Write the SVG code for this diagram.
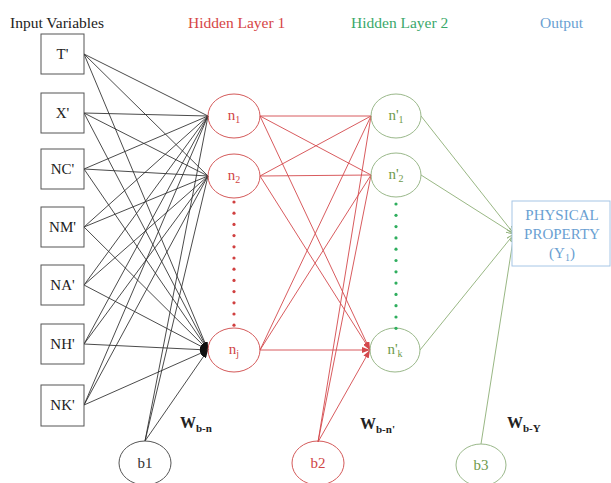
<svg xmlns="http://www.w3.org/2000/svg" width="611" height="483" viewBox="0 0 611 483">
<defs>
<style>
text{font-family:"Liberation Serif","Times New Roman",serif;}
.box{fill:#fff;stroke:#555;stroke-width:1;}
.lbl{font-size:15px;fill:#222;text-anchor:middle;}
.title{font-size:15.5px;}
.cb{fill:none;stroke:#555;stroke-width:1;}
.cr{fill:none;stroke:#d45a5a;stroke-width:1;}
.cg{fill:none;stroke:#9ab88a;stroke-width:1;}
.tr{font-size:15px;fill:#d04545;text-anchor:middle;}
.tg{font-size:15px;fill:#6f9a4c;text-anchor:middle;}
.tb{font-size:15px;fill:#333;text-anchor:middle;}
.lk{stroke:#2b2b2b;stroke-width:0.85;fill:none;marker-end:url(#ak);}
.lr{stroke:#d4484c;stroke-width:0.9;fill:none;marker-end:url(#ar);}
.lg{stroke:#8daf76;stroke-width:0.9;fill:none;}
.w{font-size:16px;font-weight:bold;fill:#222;}
.out{font-size:15px;fill:#6a9fd2;text-anchor:middle;}
</style>
<marker id="ak" markerWidth="8" markerHeight="6" refX="8" refY="3" orient="auto" markerUnits="userSpaceOnUse"><path d="M0,0 L8,3 L0,6 z" fill="#111"/></marker>
<marker id="ar" markerWidth="8" markerHeight="6" refX="8" refY="3" orient="auto" markerUnits="userSpaceOnUse"><path d="M0,0 L8,3 L0,6 z" fill="#d4484c"/></marker>
<marker id="ag" markerWidth="8" markerHeight="6" refX="8" refY="3" orient="auto" markerUnits="userSpaceOnUse"><path d="M0,0 L8,3 L0,6" fill="none" stroke="#8daf76" stroke-width="1"/></marker>
</defs>
<rect width="611" height="483" fill="#fff"/>

<!-- titles -->
<text class="title" x="10" y="28" fill="#222">Input Variables</text>
<text class="title" x="188" y="28" fill="#d64545">Hidden Layer 1</text>
<text class="title" x="351" y="28" fill="#3aa86a">Hidden Layer 2</text>
<text class="title" x="540" y="28" fill="#6a9fd2">Output</text>

<!-- connectors -->
<g id="connectors">
<g id="inputs-to-h1">
<path class="lk" d="M84,54 L208,116 M84,54 L208,176 M84,54 L208,350"/>
<path class="lk" d="M84,113 L208,116 M84,113 L208,176 M84,113 L208,350"/>
<path class="lk" d="M84,169 L208,116 M84,169 L208,176 M84,169 L208,350"/>
<path class="lk" d="M84,227 L208,116 M84,227 L208,176 M84,227 L208,350"/>
<path class="lk" d="M84,285 L208,116 M84,285 L208,176 M84,285 L208,350"/>
<path class="lk" d="M84,344 L208,116 M84,344 L208,176 M84,344 L208,350"/>
<path class="lk" d="M84,405 L208,116 M84,405 L208,176 M84,405 L208,350"/>
<path class="lk" d="M145,441 L208,116 M145,441 L208,176 M145,441 L208,350"/>
</g>
<g id="h1-to-h2">
<path class="lr" d="M260,116 L371,116 M260,116 L371,175 M260,116 L370,350"/>
<path class="lr" d="M260,176 L371,116 M260,176 L371,175 M260,176 L370,350"/>
<path class="lr" d="M260,350 L371,116 M260,350 L371,175 M260,350 L370,350"/>
<path class="lr" d="M318,442 L371,116 M318,442 L371,175 M318,442 L370,350"/>
</g>
<g id="h2-to-out">
<path class="lg" marker-end="url(#ag)" d="M421,116 L514,234"/>
<path class="lg" marker-end="url(#ag)" d="M421,175 L514,234"/>
<path class="lg" marker-end="url(#ag)" d="M420,350 L514,234"/>
<path class="lg" marker-end="url(#ag)" d="M481,444 L514,234"/>
</g>
</g>

<!-- input nodes -->
<g id="in-T"><rect class="box" x="41" y="34" width="43" height="40"/><text class="lbl" x="62.5" y="59">T'</text></g>
<g id="in-X"><rect class="box" x="41" y="93" width="43" height="40"/><text class="lbl" x="62.5" y="118">X'</text></g>
<g id="in-NC"><rect class="box" x="41" y="149" width="43" height="40"/><text class="lbl" x="62.5" y="174">NC'</text></g>
<g id="in-NM"><rect class="box" x="41" y="207" width="43" height="40"/><text class="lbl" x="62.5" y="232">NM'</text></g>
<g id="in-NA"><rect class="box" x="41" y="265" width="43" height="40"/><text class="lbl" x="62.5" y="290">NA'</text></g>
<g id="in-NH"><rect class="box" x="41" y="324" width="43" height="40"/><text class="lbl" x="62.5" y="349">NH'</text></g>
<g id="in-NK"><rect class="box" x="41" y="385" width="43" height="41"/><text class="lbl" x="62.5" y="410">NK'</text></g>

<!-- hidden layer 1 -->
<g id="n1"><ellipse class="cr" cx="234" cy="116" rx="26" ry="22"/><text class="tr" x="234" y="120">n<tspan dy="3" font-size="10">1</tspan></text></g>
<g id="n2"><ellipse class="cr" cx="234" cy="176" rx="26" ry="22"/><text class="tr" x="234" y="180">n<tspan dy="3" font-size="10">2</tspan></text></g>
<g id="nj"><ellipse class="cr" cx="234" cy="350" rx="26" ry="22"/><text class="tr" x="234" y="354">n<tspan dy="3" font-size="10">j</tspan></text></g>
<g id="dots1" fill="#d04040">
<circle cx="234" cy="202" r="1.6"/><circle cx="234" cy="213.2" r="1.6"/><circle cx="234" cy="224.4" r="1.6"/><circle cx="234" cy="235.6" r="1.6"/><circle cx="234" cy="246.8" r="1.6"/><circle cx="234" cy="258" r="1.6"/><circle cx="234" cy="269.2" r="1.6"/><circle cx="234" cy="280.4" r="1.6"/><circle cx="234" cy="291.6" r="1.6"/><circle cx="234" cy="302.8" r="1.6"/><circle cx="234" cy="314" r="1.6"/><circle cx="234" cy="325.2" r="1.6"/>
</g>

<!-- hidden layer 2 -->
<g id="np1"><ellipse class="cg" cx="396" cy="116" rx="25" ry="22"/><text class="tg" x="396" y="120">n'<tspan dy="3" font-size="10">1</tspan></text></g>
<g id="np2"><ellipse class="cg" cx="396" cy="175" rx="25" ry="22"/><text class="tg" x="396" y="179">n'<tspan dy="3" font-size="10">2</tspan></text></g>
<g id="npk"><ellipse class="cg" cx="395" cy="350" rx="25" ry="22"/><text class="tg" x="395" y="354">n'<tspan dy="3" font-size="10">k</tspan></text></g>
<g id="dots2" fill="#2fae5e">
<circle cx="396" cy="204" r="1.6"/><circle cx="396" cy="215.3" r="1.6"/><circle cx="396" cy="226.6" r="1.6"/><circle cx="396" cy="237.9" r="1.6"/><circle cx="396" cy="249.2" r="1.6"/><circle cx="396" cy="260.5" r="1.6"/><circle cx="396" cy="271.8" r="1.6"/><circle cx="396" cy="283.1" r="1.6"/><circle cx="396" cy="294.4" r="1.6"/><circle cx="396" cy="305.7" r="1.6"/><circle cx="396" cy="317" r="1.6"/><circle cx="396" cy="328.3" r="1.6"/>
</g>

<!-- output -->
<g id="output"><rect x="512" y="201" width="98" height="65" fill="#fff" stroke="#a6c6e6" stroke-width="1"/>
<text class="out" x="562" y="220">PHYSICAL</text>
<text class="out" x="562" y="239">PROPERTY</text>
<text class="out" x="562" y="258">(Y<tspan dy="3" font-size="10">1</tspan><tspan dy="-3">)</tspan></text>
</g>

<!-- biases -->
<g id="b1"><ellipse class="cb" cx="145" cy="463" rx="26" ry="22"/><text class="tb" x="145" y="468">b1</text></g>
<g id="b2"><ellipse class="cr" cx="318" cy="463" rx="26" ry="22"/><text class="tr" x="318" y="468">b2</text></g>
<g id="b3"><ellipse class="cg" cx="481" cy="465" rx="25" ry="21"/><text class="tg" x="481" y="470">b3</text></g>

<!-- weight labels -->
<text class="w" x="180" y="428">W<tspan dy="4" font-size="11">b-n</tspan></text>
<text class="w" x="360" y="429">W<tspan dy="4" font-size="11">b-n'</tspan></text>
<text class="w" x="507" y="428">W<tspan dy="4" font-size="11">b-Y</tspan></text>
</svg>
